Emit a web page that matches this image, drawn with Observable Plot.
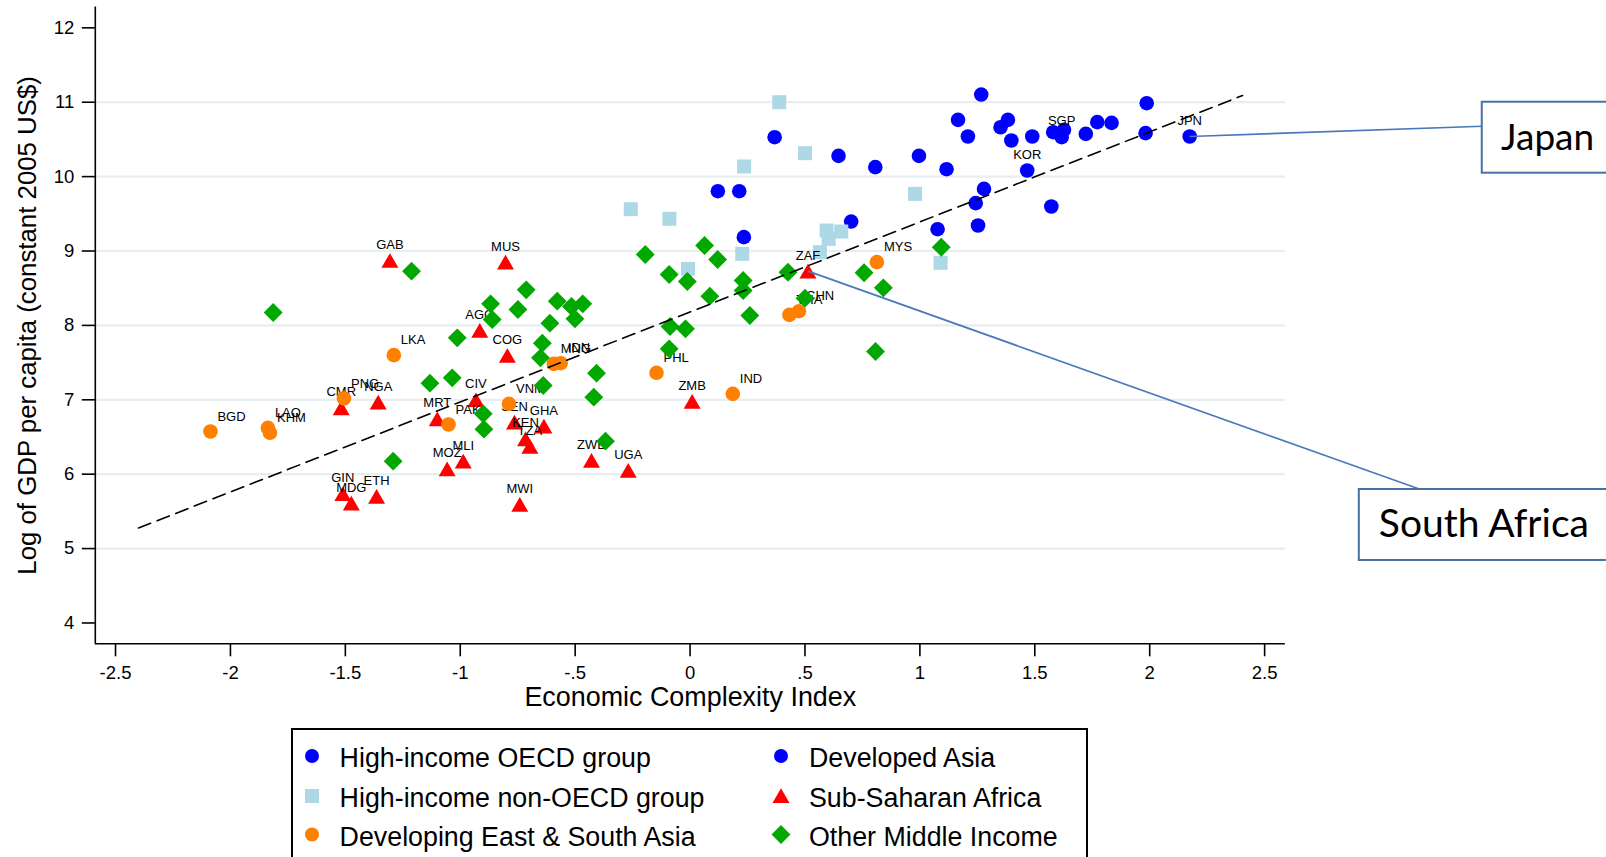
<!DOCTYPE html>
<html>
<head>
<meta charset="utf-8">
<script src="https://cdn.jsdelivr.net/npm/d3@7"></script>
<script src="https://cdn.jsdelivr.net/npm/@observablehq/plot@0.6"></script>
<style>
  body { margin: 0; background: #fff; font-family: "Liberation Sans", Arial, sans-serif; }
  #wrap { position: relative; width: 1606px; height: 857px; overflow: hidden; background: #fff; }
  #legend { position: absolute; left: 291px; top: 728px; }
</style>
</head>
<body>
<div id="wrap"></div>
<script>
// ---------------- data ----------------
const xTicks = [-2.5, -2, -1.5, -1, -0.5, 0, 0.5, 1, 1.5, 2, 2.5];
const xTickLabels = ["-2.5", "-2", "-1.5", "-1", "-.5", "0", ".5", "1", "1.5", "2", "2.5"];
const yTicks = [4, 5, 6, 7, 8, 9, 10, 11, 12];
const yTickLabels = ["4", "5", "6", "7", "8", "9", "10", "11", "12"];
const gridY = [5, 6, 7, 8, 9, 10, 11];
const xDomain = [-2.588, 2.59];
const yDomain = [3.72, 12.28];

// High-income OECD group (blue circles, unlabeled)
const highOECD = [
  [0.121, 9.804], [0.214, 9.804], [0.234, 9.186], [0.368, 10.530], [0.646, 10.279],
  [0.701, 9.396], [0.806, 10.127], [0.996, 10.279], [1.077, 9.293], [1.116, 10.100],
  [1.166, 10.763], [1.209, 10.539], [1.243, 9.643], [1.253, 9.343], [1.267, 11.103],
  [1.279, 9.835], [1.351, 10.664], [1.383, 10.763], [1.398, 10.485], [1.489, 10.539],
  [1.572, 9.598], [1.580, 10.597], [1.627, 10.629], [1.722, 10.575], [1.772, 10.732],
  [1.834, 10.723], [1.987, 10.987], [1.982, 10.584]
];
// Developed Asia (blue circles, labeled)
const developedAsia = [
  [1.467, 10.082, "KOR"], [1.617, 10.530, "SGP"], [2.174, 10.539, "JPN"]
];
// High-income non-OECD group (light blue squares)
const highNonOECD = [
  [-0.258, 9.562], [-0.090, 9.433], [-0.009, 8.760], [0.227, 8.962], [0.235, 10.136],
  [0.388, 11.000], [0.500, 10.315], [0.594, 9.275], [0.658, 9.262], [0.603, 9.163],
  [0.565, 8.984], [0.979, 9.768], [1.090, 8.841]
];
// Sub-Saharan Africa (red triangles, labeled)
const subSaharan = [
  [-1.306, 8.872, "GAB"], [-0.803, 8.850, "MUS"], [-0.915, 7.932, "AGO"], [-0.795, 7.595, "COG"],
  [-1.518, 6.892, "CMR"], [-1.357, 6.968, "NGA"], [-0.932, 7.000, "CIV"], [-1.100, 6.744, "MRT"],
  [-0.764, 6.700, "SEN"], [-0.636, 6.646, "GHA"], [-0.716, 6.475, "KEN"], [-0.697, 6.372, "TZA"],
  [-1.057, 6.072, "MOZ"], [-0.987, 6.175, "MLI"], [-1.511, 5.736, "GIN"], [-1.474, 5.611, "MDG"],
  [-1.364, 5.700, "ETH"], [-0.741, 5.593, "MWI"], [-0.429, 6.184, "ZWE"], [-0.269, 6.050, "UGA"],
  [0.009, 6.977, "ZMB"], [0.513, 8.729, "ZAF"]
];
// Developing East & South Asia (orange circles, labeled)
const eastSouthAsia = [
  [-2.087, 6.574, "BGD"], [-1.837, 6.623, "LAO"], [-1.828, 6.556, "KHM"], [-1.289, 7.600, "LKA"],
  [-1.506, 7.018, "PNG"], [-1.051, 6.668, "PAK"], [-0.788, 6.946, "VNM"], [-0.593, 7.483, "MNG"],
  [-0.563, 7.492, "IDN"], [-0.146, 7.363, "PHL"], [0.186, 7.080, "IND"], [0.432, 8.142, "THA"],
  [0.474, 8.191, "CHN"], [0.813, 8.850, "MYS"]
];
// Other Middle Income (green diamonds)
const otherMiddle = [
  [-1.814, 8.173], [-1.212, 8.729], [-1.292, 6.175], [-1.013, 7.833], [-1.132, 7.224],
  [-1.035, 7.295], [-0.900, 6.811], [-0.897, 6.605], [-0.868, 8.290], [-0.861, 8.079],
  [-0.713, 8.478], [-0.749, 8.214], [-0.578, 8.326], [-0.610, 8.030], [-0.516, 8.254],
  [-0.467, 8.290], [-0.501, 8.088], [-0.643, 7.761], [-0.651, 7.564], [-0.639, 7.192],
  [-0.407, 7.358], [-0.419, 7.035], [-0.368, 6.444], [-0.195, 8.953], [-0.091, 8.684],
  [-0.012, 8.590], [0.063, 9.074], [0.120, 8.886], [0.086, 8.393], [-0.087, 7.985],
  [-0.020, 7.954], [-0.091, 7.685], [0.231, 8.604], [0.231, 8.469], [0.260, 8.133],
  [0.426, 8.715], [0.500, 8.366], [0.757, 8.707], [0.841, 8.505], [0.807, 7.649],
  [1.093, 9.051]
];
// dashed fitted line (end points)
const fitLine = [[-2.40, 5.277], [2.404, 11.09]];

// callout boxes (data coordinates, beyond the axis range)
const callouts = [
  { label: "Japan", fromX: 2.174, fromY: 10.539, toX: 3.447, toY: 10.677,
    bx1: 3.447, bx2: 4.3, by1: 10.046, by2: 11.0, tx: 3.529, ty: 10.523, size: 37 },
  { label: "South Africa", fromX: 0.513, fromY: 8.729, toX: 3.179, toY: 5.794,
    bx1: 2.912, bx2: 4.3, by1: 4.84, by2: 5.794, tx: 2.997, ty: 5.317, size: 39 }
];

const legendLabels = ["High-income OECD group", "Developed Asia", "High-income non-OECD group",
  "Sub-Saharan Africa", "Developing East & South Asia", "Other Middle Income"];
const legendColors = ["#0000ff", "#0000ff", "#add8e6", "#ff0000", "#ff8000", "#00a800"];
const legendSymbols = ["circle", "circle", "square", "triangle", "circle", "diamond2"];

// ---------------- chart ----------------
const rows = arr => arr.map(d => ({ x: d[0], y: d[1], label: d[2] }));
const font = "Liberation Sans, Arial, Helvetica, sans-serif";
const axisLine = 1.6;

const plot = Plot.plot({
  width: 1606,
  height: 720,
  marginLeft: 94.8,
  marginRight: 321.2,
  marginTop: 6.5,
  marginBottom: 76.7,
  x: { domain: xDomain },
  y: { domain: yDomain },
  style: { fontFamily: font, background: "white", color: "#000" },
  marks: [
    Plot.ruleY(gridY, { x1: xDomain[0], x2: xDomain[1], stroke: "#e6eef0", strokeWidth: 2.2 }),
    Plot.axisY(yTicks, { tickSize: 13, tickPadding: 8, fontSize: 18.5, label: null, strokeWidth: axisLine,
      tickFormat: d => yTickLabels[yTicks.indexOf(d)] }),
    Plot.axisX(xTicks, { tickSize: 13, tickPadding: 9, fontSize: 18.5, label: null, strokeWidth: axisLine,
      tickFormat: d => xTickLabels[xTicks.indexOf(d)] }),
    Plot.ruleX([xDomain[0]], { y1: yDomain[0], y2: yDomain[1], stroke: "#000", strokeWidth: axisLine }),
    Plot.ruleY([yDomain[0]], { x1: xDomain[0], x2: xDomain[1], stroke: "#000", strokeWidth: axisLine }),

    Plot.text(["Log of GDP per capita (constant 2005 US$)"], { frameAnchor: "left", textAnchor: "middle",
      lineAnchor: "middle", rotate: -90, dx: -67.2, fontSize: 25.8, fill: "#000" }),
    Plot.text(["Economic Complexity Index"], { frameAnchor: "bottom", textAnchor: "middle",
      lineAnchor: "middle", dy: 53.4, fontSize: 26.9, fill: "#000" }),

    // High-income OECD
    Plot.dot(rows(highOECD), { x: "x", y: "y", symbol: "circle", r: 7.3, fill: "#0000ff" }),
    // Developed Asia
    Plot.dot(rows(developedAsia), { x: "x", y: "y", symbol: "circle", r: 7.3, fill: "#0000ff" }),
    Plot.text(rows(developedAsia), { x: "x", y: "y", text: "label", dy: -16, fontSize: 13, fill: "#000" }),
    // High-income non-OECD
    Plot.dot(rows(highNonOECD), { x: "x", y: "y", symbol: "square", r: 7.9, fill: "#add8e6" }),
    // Sub-Saharan Africa
    Plot.dot(rows(subSaharan), { x: "x", y: "y", symbol: "triangle", r: 6.3, fill: "#ff0000", dy: 2.4 }),
    Plot.text(rows(subSaharan), { x: "x", y: "y", text: "label", dy: -15.7, fontSize: 13, fill: "#000" }),
    // Developing East & South Asia
    Plot.dot(rows(eastSouthAsia), { x: "x", y: "y", symbol: "circle", r: 7.3, fill: "#ff8000" }),
    Plot.text(rows(eastSouthAsia), { x: "x", y: "y", text: "label", textAnchor: "start", dx: 7, dy: -15,
      fontSize: 13, fill: "#000" }),
    // Other Middle Income
    Plot.dot(rows(otherMiddle), { x: "x", y: "y", symbol: "diamond2", r: 8.5, fill: "#00a800", stroke: "none" }),

    // fitted line
    Plot.line(fitLine, { x: d => d[0], y: d => d[1], stroke: "#000", strokeWidth: 1.6, strokeDasharray: "13,7" }),

    // callouts
    Plot.link(callouts, { x1: "fromX", y1: "fromY", x2: "toX", y2: "toY", stroke: "#4a78b8", strokeWidth: 1.7 }),
    Plot.rect(callouts, { x1: "bx1", x2: "bx2", y1: "by1", y2: "by2", fill: "white", stroke: "#4a6fa5", strokeWidth: 2 }),
    Plot.text(callouts, { x: "tx", y: "ty", text: "label", textAnchor: "start", lineAnchor: "middle",
      fontSize: d => d.size, fontFamily: "Lato, 'Open Sans', sans-serif", fill: "#000" })
  ]
});

const wrap = document.getElementById("wrap");
plot.style.position = "absolute";
plot.style.left = "0px";
plot.style.top = "0px";
wrap.appendChild(plot);

// ---------------- legend (below the chart) ----------------
const lw = 797, lh = 140;
const legend = d3.create("svg")
  .attr("id", "legend")
  .attr("width", lw)
  .attr("height", lh)
  .style("position", "absolute")
  .style("left", "291px")
  .style("top", "728px");
legend.append("rect").attr("x", 1).attr("y", 1).attr("width", lw - 2).attr("height", lh)
  .attr("fill", "white").attr("stroke", "#000").attr("stroke-width", 2);
const symMap = { circle: d3.symbolCircle, square: d3.symbolSquare, triangle: d3.symbolTriangle, diamond2: d3.symbolDiamond2 };
const symR = { circle: 7.0, square: 7.9, triangle: 6.3, diamond2: 8.5 };
const colX = [21, 490], textX = [48.6, 518], rowY = [28, 68, 106.5];
legendLabels.forEach((lab, i) => {
  const c = i % 2, r = Math.floor(i / 2);
  const s = legendSymbols[i];
  const size = Math.PI * symR[s] * symR[s];
  legend.append("path")
    .attr("d", d3.symbol(symMap[s], size)())
    .attr("transform", `translate(${colX[c]},${rowY[r] + (s === "triangle" ? 2 : 0)})`)
    .attr("fill", legendColors[i]);
  legend.append("text")
    .attr("x", textX[c]).attr("y", rowY[r] + 2)
    .attr("dominant-baseline", "central")
    .attr("font-family", font)
    .attr("font-size", 26.8)
    .attr("fill", "#000")
    .text(lab);
});
wrap.appendChild(legend.node());
</script>
</body>
</html>
